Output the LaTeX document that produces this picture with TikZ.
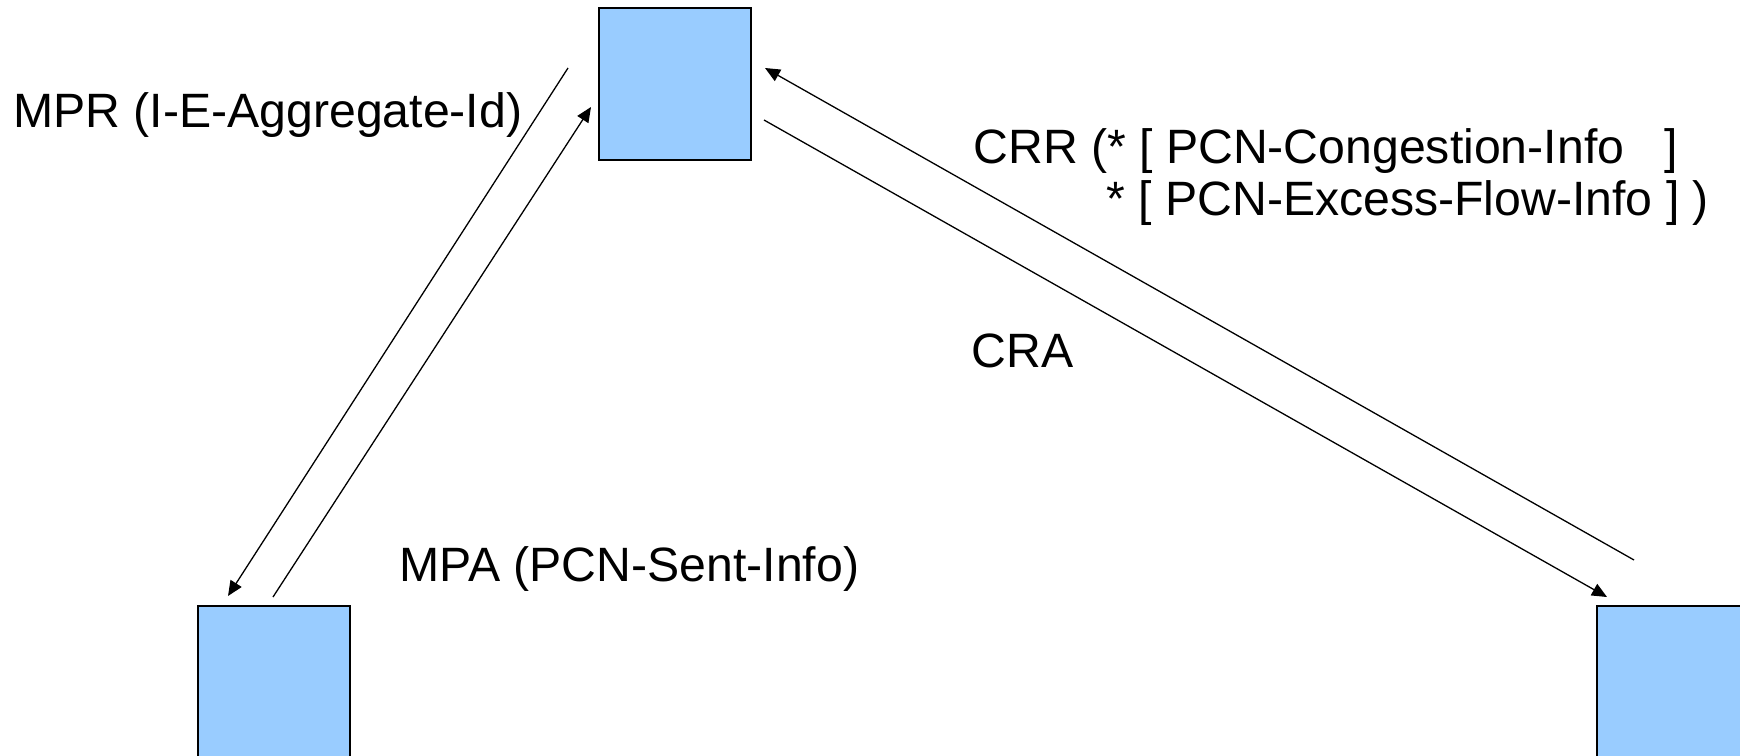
\documentclass[tikz,border=0pt]{standalone}
\usepackage{fontspec}
\setmainfont{Liberation Sans}
\usetikzlibrary{arrows.meta}
\definecolor{boxblue}{HTML}{99CCFF}
\begin{document}
\begin{tikzpicture}[x=0.5pt,y=-0.5pt,
  entity/.style={draw=black,line width=1pt,fill=boxblue,minimum width=76pt,minimum height=76pt,inner sep=0pt,anchor=north west},
  msg/.style={line width=0.65pt,-{Triangle[length=7.5pt,width=6.5pt]}},
  lbl/.style={anchor=base west,inner sep=0pt,font=\fontsize{24.1pt}{28pt}\selectfont}]
\clip (0,0) rectangle (1740,755);
\fill[white] (0,0) rectangle (1740,755);
% entities
\node[entity] (top) at (598,7) {};
\node[entity] (left) at (197,605) {};
\node[entity] (right) at (1596,605) {};
% connector end points
\coordinate (mprS) at (568,68);
\coordinate (mprE) at (228,596);
\coordinate (mpaS) at (273,597);
\coordinate (mpaE) at (591,107);
\coordinate (crrS) at (1634,560);
\coordinate (crrE) at (765,68);
\coordinate (craS) at (764,120);
\coordinate (craE) at (1607,597);
\draw[msg] (mprS) -- (mprE);
\draw[msg] (mpaS) -- (mpaE);
\draw[msg] (crrS) -- (crrE);
\draw[msg] (craS) -- (craE);
% labels
\node[lbl] (lmpr) at (13,127) {MPR (I-E-Aggregate-Id)};
\node[lbl] (lmpa) at (399,581) {MPA (PCN-Sent-Info)};
\node[lbl] (lcrr1) at (973,163) {CRR (* [ PCN-Congestion-Info\hspace{20.3pt}]};
\node[lbl] (lcrr2) at (1106,215) {* [ PCN-Excess-Flow-Info ] )};
\node[lbl] (lcra) at (971,367) {CRA};
\end{tikzpicture}
\end{document}
